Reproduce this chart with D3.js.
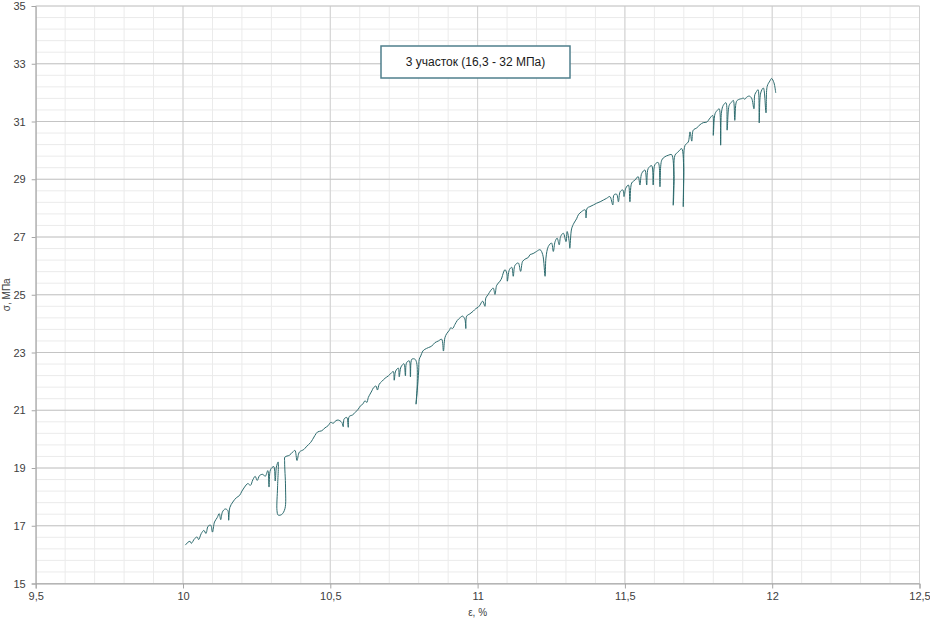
<!DOCTYPE html>
<html>
<head>
<meta charset="utf-8">
<title>3 участок</title>
<script src="https://cdn.jsdelivr.net/npm/d3@7"></script>
<style>
body { margin: 0; background: #fff; }
svg { display: block; }
</style>
</head>
<body>
<script>
// деформация, %
var strain = [
 10.008,10.017,10.024,10.028,10.040,10.048,10.053,10.062,10.071,10.078,10.085,10.094,10.100,10.107,10.116,10.123,10.128,10.134,10.143,10.152,
 10.155,10.159,10.169,10.181,10.192,10.200,10.209,10.220,10.229,10.237,10.245,10.252,10.260,10.271,10.279,10.288,10.292,10.297,10.308,10.313,
 10.317,10.323,10.321,10.319,10.323,10.335,10.346,10.348,10.345,10.346,10.361,10.372,10.380,10.387,10.395,10.410,10.418,10.426,10.433,10.440,
 10.448,10.457,10.471,10.482,10.493,10.501,10.510,10.519,10.527,10.539,10.544,10.547,10.556,10.561,10.564,10.576,10.584,10.595,10.603,10.610,
 10.618,10.624,10.629,10.635,10.641,10.646,10.655,10.660,10.666,10.674,10.686,10.697,10.705,10.714,10.717,10.722,10.731,10.734,10.740,10.750,
 10.755,10.759,10.768,10.772,10.777,10.787,10.793,10.795,10.791,10.795,10.800,10.802,10.807,10.814,10.821,10.833,10.844,10.855,10.867,10.878,
 10.884,10.889,10.895,10.904,10.909,10.915,10.923,10.931,10.940,10.949,10.957,10.960,10.963,10.974,10.985,10.994,11.002,11.008,11.017,11.025,
 11.028,11.036,11.044,11.053,11.059,11.065,11.076,11.082,11.087,11.093,11.099,11.101,11.108,11.116,11.121,11.127,11.138,11.146,11.153,11.164,
 11.172,11.178,11.184,11.191,11.200,11.212,11.221,11.229,11.232,11.240,11.251,11.257,11.263,11.270,11.277,11.282,11.291,11.300,11.304,11.311,
 11.313,11.319,11.327,11.336,11.342,11.353,11.365,11.368,11.372,11.381,11.393,11.404,11.416,11.427,11.438,11.449,11.459,11.463,11.472,11.478,
 11.484,11.493,11.497,11.503,11.512,11.517,11.523,11.534,11.545,11.551,11.557,11.568,11.574,11.579,11.591,11.596,11.602,11.613,11.619,11.625,
 11.636,11.647,11.659,11.664,11.667,11.670,11.681,11.693,11.698,11.700,11.704,11.715,11.721,11.727,11.732,11.744,11.755,11.766,11.778,11.789,
 11.798,11.800,11.806,11.814,11.820,11.825,11.828,11.834,11.843,11.847,11.854,11.862,11.868,11.873,11.879,11.888,11.896,11.902,11.907,11.913,
 11.922,11.930,11.938,11.941,11.947,11.952,11.956,11.961,11.970,11.979,11.983,11.992,11.998,12.006,12.012
];
// напряжение, МПа
var stress = [
 16.33,16.43,16.46,16.39,16.56,16.61,16.52,16.73,16.84,16.73,16.98,17.02,16.78,17.13,17.28,17.42,17.21,17.48,17.58,17.53,
 17.19,17.63,17.82,17.97,18.05,18.20,18.34,18.46,18.40,18.59,18.71,18.57,18.74,18.78,18.71,18.91,18.34,18.94,19.05,18.55,
 19.03,19.21,18.34,17.53,17.37,17.39,17.59,18.34,19.21,19.38,19.44,19.55,19.61,19.26,19.55,19.64,19.73,19.81,19.88,19.99,
 20.13,20.25,20.29,20.39,20.47,20.58,20.55,20.64,20.66,20.58,20.43,20.70,20.75,20.41,20.78,20.84,20.92,21.04,21.16,21.21,
 21.33,21.27,21.44,21.56,21.67,21.77,21.84,21.70,21.90,21.99,22.11,22.19,22.27,22.34,22.04,22.36,22.46,22.16,22.50,22.61,
 22.19,22.65,22.71,22.16,22.77,22.77,22.65,21.90,21.21,21.67,22.36,22.77,22.88,23.05,23.11,23.17,23.22,23.34,23.40,23.46,
 23.05,23.51,23.65,23.77,23.86,23.83,23.97,24.11,24.20,24.26,24.14,23.83,24.26,24.34,24.43,24.52,24.57,24.64,24.78,24.60,
 24.89,25.01,25.14,25.23,25.01,25.33,25.47,25.58,25.75,25.87,25.75,25.47,25.87,25.95,25.64,26.02,26.10,25.81,26.16,26.25,
 26.29,26.39,26.41,26.44,26.50,26.56,26.39,25.64,26.27,26.67,26.79,26.50,26.84,26.96,26.73,27.02,27.13,26.84,27.19,26.84,
 26.61,27.28,27.48,27.63,27.77,27.88,27.94,27.66,28.00,28.05,28.11,28.17,28.22,28.28,28.34,28.40,28.11,28.46,28.48,28.22,
 28.57,28.63,28.40,28.69,28.80,28.22,28.87,28.97,29.09,28.80,29.20,29.32,28.80,29.37,29.47,28.80,29.51,29.58,28.74,29.66,
 29.78,29.83,29.85,28.10,28.91,29.83,29.95,30.06,28.05,29.14,30.17,30.29,30.64,30.32,30.70,30.78,30.89,30.96,30.98,31.12,
 31.21,30.52,31.27,31.39,31.44,30.18,31.33,31.56,31.65,30.70,31.56,31.67,31.73,31.04,31.70,31.77,31.79,31.81,31.77,31.84,
 31.88,31.81,31.44,31.93,32.04,32.10,30.95,31.99,32.16,31.30,32.22,32.40,32.49,32.34,31.99
];

var xTicks = [9.5, 10, 10.5, 11, 11.5, 12, 12.5];
var yTicks = [15, 17, 19, 21, 23, 25, 27, 29, 31, 33, 35];
var xTitle = "ε, %";
var yTitle = "σ, МПа";
var boxText = "3 участок (16,3 - 32 МПа)";

var width = 930, height = 620;
// границы области построения (top занят window.top, поэтому свои имена)
var pLeft = 35.7, pRight = 919.5, pTop = 6, pBottom = 583.5;

var xScale = d3.scaleLinear().domain([9.5, 12.5]).range([pLeft, pRight]);
var yScale = d3.scaleLinear().domain([15, 35]).range([pBottom, pTop]);

var svg = d3.select("body").append("svg")
    .attr("width", width).attr("height", height)
    .style("font-family", "'Liberation Sans', Arial, sans-serif");

svg.append("rect").attr("width", width).attr("height", height).attr("fill", "#fff");

// сетка: мелкие линии
var grid = svg.append("g");
grid.selectAll(".vmin").data(d3.range(95, 126).map(function(d){ return d / 10; }))
    .enter().append("line")
    .attr("x1", function(d){ return xScale(d); }).attr("x2", function(d){ return xScale(d); })
    .attr("y1", pTop).attr("y2", pBottom)
    .attr("stroke", "#ebebeb").attr("stroke-width", 1);
grid.selectAll(".hmin").data(d3.range(0, 51).map(function(d){ return 15 + d * 0.4; }))
    .enter().append("line")
    .attr("x1", pLeft).attr("x2", pRight)
    .attr("y1", function(d){ return yScale(d); }).attr("y2", function(d){ return yScale(d); })
    .attr("stroke", "#ebebeb").attr("stroke-width", 1);
// сетка: основные линии
grid.selectAll(".vmaj").data(xTicks)
    .enter().append("line")
    .attr("x1", function(d){ return xScale(d); }).attr("x2", function(d){ return xScale(d); })
    .attr("y1", pTop).attr("y2", pBottom)
    .attr("stroke", "#d2d2d2").attr("stroke-width", 1);
grid.selectAll(".hmaj").data(yTicks)
    .enter().append("line")
    .attr("x1", pLeft).attr("x2", pRight)
    .attr("y1", function(d){ return yScale(d); }).attr("y2", function(d){ return yScale(d); })
    .attr("stroke", "#c4c4c4").attr("stroke-width", 1);

function comma(d){ return String(d).replace(".", ","); }

// оси
var xAxis = svg.append("g").attr("transform", "translate(0," + pBottom + ")")
    .call(d3.axisBottom(xScale).tickValues(xTicks).tickFormat(comma).tickSize(5).tickPadding(4));
var yAxis = svg.append("g").attr("transform", "translate(" + pLeft + ",0)")
    .call(d3.axisLeft(yScale).tickValues(yTicks).tickFormat(comma).tickSize(4).tickPadding(6));
[xAxis, yAxis].forEach(function(a){
    a.select(".domain").attr("stroke", "#a6a6a6");
    a.selectAll(".tick line").attr("stroke", "#a6a6a6");
    a.selectAll(".tick text").attr("fill", "#404040").style("font-size", "11px");
});

// кривая
var pts = strain.map(function(d, i){ return [d, stress[i]]; });
var line = d3.line()
    .x(function(d){ return xScale(d[0]); })
    .y(function(d){ return yScale(d[1]); })
    .curve(d3.curveCatmullRom.alpha(0.5));
svg.append("path").datum(pts)
    .attr("d", line)
    .attr("fill", "none")
    .attr("stroke", "#2d6b6e")
    .attr("stroke-width", 1);

// подписи осей
svg.append("text").attr("x", (pLeft + pRight) / 2).attr("y", 616)
    .attr("text-anchor", "middle").style("font-size", "10px").attr("fill", "#404040")
    .text(xTitle);
svg.append("text").attr("transform", "translate(10," + ((pTop + pBottom) / 2) + ") rotate(-90)")
    .attr("text-anchor", "middle").style("font-size", "10px").attr("fill", "#404040")
    .text(yTitle);

// рамка с надписью
svg.append("rect").attr("x", 381).attr("y", 46).attr("width", 189).attr("height", 32)
    .attr("fill", "#fff").attr("stroke", "#4f7f8c").attr("stroke-width", 1.5);
svg.append("text").attr("x", 475.5).attr("y", 66)
    .attr("text-anchor", "middle").style("font-size", "12px").attr("fill", "#1a1a1a")
    .text(boxText);
</script>
</body>
</html>
